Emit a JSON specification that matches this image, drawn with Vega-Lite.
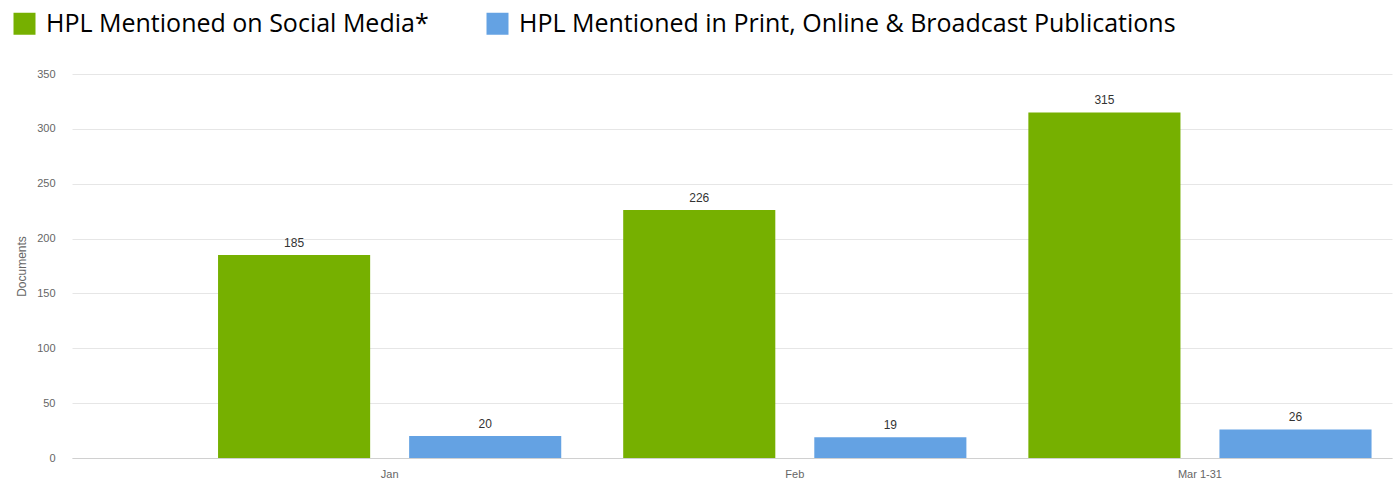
{
  "$schema": "https://vega.github.io/schema/vega-lite/v6.json",
  "width": 1320,
  "height": 384,
  "autosize": {"type": "none"},
  "padding": {"left": 72, "top": 74, "right": 3, "bottom": 22},
  "background": "white",
  "config": {"view": {"stroke": null}, "font": "Liberation Sans"},
  "data": {
    "values": [
      {"month": "Jan", "series": "HPL Mentioned on Social Media*", "value": 185},
      {"month": "Jan", "series": "HPL Mentioned in Print, Online & Broadcast Publications", "value": 20},
      {"month": "Feb", "series": "HPL Mentioned on Social Media*", "value": 226},
      {"month": "Feb", "series": "HPL Mentioned in Print, Online & Broadcast Publications", "value": 19},
      {"month": "Mar 1-31", "series": "HPL Mentioned on Social Media*", "value": 315},
      {"month": "Mar 1-31", "series": "HPL Mentioned in Print, Online & Broadcast Publications", "value": 26}
    ]
  },
  "encoding": {
    "x": {
      "field": "month",
      "type": "nominal",
      "sort": ["Jan", "Feb", "Mar 1-31"],
      "scale": {"paddingInner": 0.052, "paddingOuter": 0.155, "align": 1},
      "axis": {
        "title": null,
        "labelAngle": 0,
        "ticks": false,
        "domainColor": "#d0d0d0",
        "labelColor": "#666666",
        "labelFontSize": 11,
        "labelPadding": 10
      }
    },
    "xOffset": {
      "field": "series",
      "sort": ["HPL Mentioned on Social Media*", "HPL Mentioned in Print, Online & Broadcast Publications"],
      "scale": {"paddingInner": 0.204, "paddingOuter": 0.107}
    },
    "y": {
      "field": "value",
      "type": "quantitative",
      "scale": {"domain": [0, 350], "nice": false},
      "axis": {
        "values": [0, 50, 100, 150, 200, 250, 300, 350],
        "title": "Documents",
        "titleFontSize": 12,
        "titleFontWeight": "normal",
        "titleColor": "#666666",
        "titlePadding": 8,
        "domain": false,
        "ticks": false,
        "gridColor": "#e6e6e6",
        "labelColor": "#666666",
        "labelFontSize": 11,
        "labelPadding": 17
      }
    }
  },
  "layer": [
    {
      "mark": {"type": "bar"},
      "encoding": {
        "color": {
          "field": "series",
          "type": "nominal",
          "sort": ["HPL Mentioned on Social Media*", "HPL Mentioned in Print, Online & Broadcast Publications"],
          "scale": {"range": ["#76b000", "#64a2e3"]},
          "legend": {
            "title": null,
            "orient": "none",
            "legendX": -60,
            "legendY": -63,
            "direction": "horizontal",
            "symbolType": "square",
            "symbolSize": 484,
            "symbolStrokeWidth": 0,
            "symbolOpacity": 1,
            "labelFont": "Open Sans",
            "labelFontSize": 25,
            "labelColor": "#000000",
            "labelLimit": 0,
            "labelOffset": 9,
            "columnPadding": 56
          }
        }
      }
    },
    {
      "mark": {"type": "text", "baseline": "bottom", "dy": -5, "fontSize": 12, "color": "#333333"},
      "encoding": {"text": {"field": "value", "type": "quantitative"}}
    }
  ]
}
